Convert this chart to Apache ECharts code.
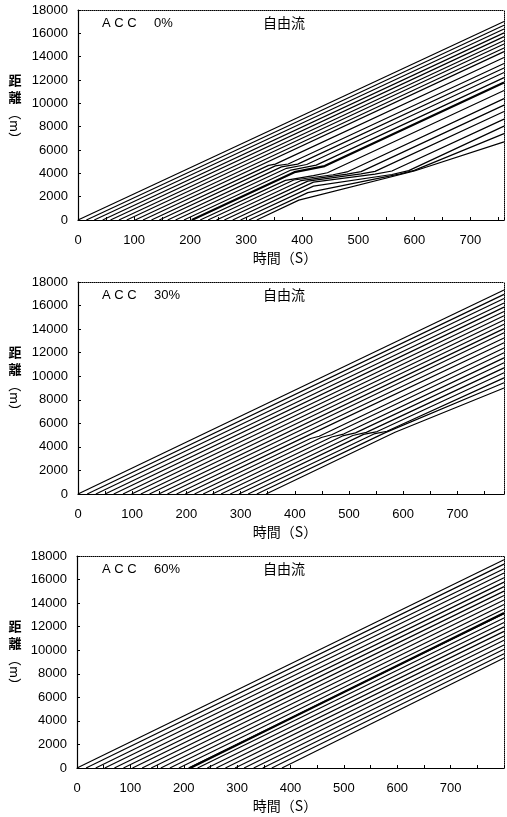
<!DOCTYPE html>
<html>
<head>
<meta charset="utf-8">
<title>ACC trajectories</title>
<script src="https://cdn.jsdelivr.net/npm/echarts@6/dist/echarts.min.js"></script>
<style>
html, body { margin: 0; padding: 0; background: #fff; }
#chart { width: 507px; height: 817px; }
</style>
</head>
<body>
<div id="chart"></div>
<script>
// vehicle trajectories, points are [time (s), distance (m)]
const acc0Trajectories = [
  [[0, 0], [760, 17020]],
  [[15, 0], [760, 16690]],
  [[29, 0], [760, 16370]],
  [[44, 0], [760, 16040]],
  [[58, 0], [760, 15720]],
  [[73, 0], [760, 15390]],
  [[87, 0], [760, 15080]],
  [[102, 0], [760, 14740]],
  [[116, 0], [760, 14430]],
  [[131, 0], [340, 4680], [352, 4790], [760, 13930]],
  [[145, 0], [352, 4640], [375, 4800], [760, 13420]],
  [[160, 0], [363, 4550], [392, 4790], [760, 13030]],
  [[174, 0], [372, 4430], [408, 4760], [760, 12640]],
  [[189, 0], [380, 4280], [425, 4700], [760, 12200]],
  [[203, 0], [386, 4100], [440, 4620], [760, 11790]],
  [[218, 0], [370, 3400], [420, 3800], [445, 4050], [760, 11100]],
  [[232, 0], [385, 3430], [455, 3880], [480, 4120], [760, 10400]],
  [[247, 0], [398, 3380], [480, 3930], [505, 4150], [760, 9850]],
  [[261, 0], [410, 3330], [505, 3950], [530, 4170], [760, 9300]],
  [[276, 0], [420, 3250], [530, 3930], [560, 4200], [760, 8650]],
  [[290, 0], [420, 2900], [560, 3900], [590, 4230], [760, 8050]],
  [[305, 0], [410, 2350], [575, 3950], [600, 4250], [760, 7400]],
  [[319, 0], [394, 1700], [600, 4200], [760, 6700]]
];
const acc0MarkedIndex = 14;

const acc30Trajectories = [
  [[0, 0], [786, 17320]],
  [[17, 0], [786, 16950]],
  [[33, 0], [786, 16600]],
  [[50, 0], [786, 16220]],
  [[66, 0], [786, 15870]],
  [[83, 0], [786, 15490]],
  [[99, 0], [786, 15140]],
  [[116, 0], [786, 14770]],
  [[132, 0], [786, 14410]],
  [[149, 0], [786, 14040]],
  [[165, 0], [786, 13690]],
  [[182, 0], [390, 4580], [786, 13250]],
  [[198, 0], [410, 4660], [786, 12840]],
  [[215, 0], [429, 4710], [445, 4900], [786, 12400]],
  [[231, 0], [449, 4800], [468, 5030], [786, 11990]],
  [[248, 0], [468, 4840], [490, 5090], [786, 11560]],
  [[264, 0], [488, 4930], [512, 5190], [786, 11150]],
  [[281, 0], [507, 4970], [532, 5230], [786, 10710]],
  [[297, 0], [527, 5060], [552, 5300], [786, 10300]],
  [[314, 0], [546, 5100], [570, 5330], [786, 9860]],
  [[330, 0], [566, 5190], [786, 9450]],
  [[347, 0], [585, 5240], [786, 9000]]
];

const acc60Trajectories = [
  [[0, 0], [800, 17680]],
  [[17, 0], [800, 17310]],
  [[35, 0], [800, 16920]],
  [[52, 0], [800, 16550]],
  [[70, 0], [800, 16150]],
  [[87, 0], [800, 15780]],
  [[104, 0], [800, 15400]],
  [[122, 0], [800, 15020]],
  [[139, 0], [800, 14640]],
  [[157, 0], [800, 14260]],
  [[174, 0], [800, 13880]],
  [[191, 0], [800, 13500]],
  [[209, 0], [800, 13110]],
  [[226, 0], [800, 12740]],
  [[244, 0], [800, 12350]],
  [[261, 0], [800, 11980]],
  [[278, 0], [800, 11600]],
  [[296, 0], [800, 11210]],
  [[313, 0], [800, 10840]],
  [[331, 0], [800, 10450]],
  [[348, 0], [800, 10080]],
  [[365, 0], [800, 9700]],
  [[384, 0], [800, 9340]]
];
const acc60Marked = [[212, 0], [800, 13160]];

const panelRates = ['0%', '30%', '60%'];
const timeMax = [760, 786, 800];
const distanceMax = 18000;
const distanceStep = 2000;
const timeStep = 100;
const accLabel = 'A C C';
const flowLabel = '自由流';
const xName = '時間（S）';
const yNameChars = ['距', '離'];
const yNameUnit = '（m）';

const layout = [
  { left: 78, top: 10, height: 210 },
  { left: 78, top: 282, height: 212 },
  { left: 77, top: 556, height: 212 }
];

const latin = '"Liberation Sans", Arial, sans-serif';
const cjk = '"Noto Sans CJK JP", sans-serif';

const chart = echarts.init(document.getElementById('chart'));

const grids = [];
const xAxes = [];
const yAxes = [];
const series = [];
const graphics = [];

function lineSeries(points, panel, width) {
  return {
    type: 'line',
    xAxisIndex: panel * 2,
    yAxisIndex: panel * 2,
    data: points,
    symbol: 'none',
    silent: true,
    animation: false,
    lineStyle: { color: '#000', width: width }
  };
}

const allTrajectories = [acc0Trajectories, acc30Trajectories, acc60Trajectories];

layout.forEach((box, p) => {
  const max = timeMax[p];
  grids.push({ left: box.left, top: box.top, width: 506 - box.left, height: box.height, containLabel: false });

  xAxes.push({
    type: 'value', gridIndex: p, min: 0, max: max, interval: timeStep, position: 'bottom',
    axisLine: { onZero: false, lineStyle: { color: '#000', width: 1.2 } },
    axisTick: { inside: true, length: 3, lineStyle: { color: '#000' } },
    minorTick: { show: true, splitNumber: 2, length: 3, lineStyle: { color: '#000' } },
    axisLabel: {
      color: '#000', fontSize: 13, fontFamily: latin, margin: 14,
      formatter: v => (v % timeStep === 0 && v < max ? String(v) : '')
    },
    splitLine: { show: false }
  });
  xAxes.push({
    type: 'value', gridIndex: p, min: 0, max: max, position: 'top',
    axisLine: { onZero: false, lineStyle: { color: '#000', width: 1, type: 'dotted' } },
    axisTick: { show: false }, axisLabel: { show: false }, splitLine: { show: false }
  });

  yAxes.push({
    type: 'value', gridIndex: p, min: 0, max: distanceMax, interval: distanceStep, position: 'left',
    axisLine: { onZero: false, lineStyle: { color: '#000', width: 1.2 } },
    axisTick: { inside: true, length: 3, lineStyle: { color: '#000' } },
    axisLabel: { color: '#000', fontSize: 13, fontFamily: latin, margin: 10, formatter: v => String(v) },
    splitLine: { show: false }
  });
  yAxes.push({
    type: 'value', gridIndex: p, min: 0, max: distanceMax, position: 'right',
    axisLine: { onZero: false, lineStyle: { color: '#000', width: 1, type: 'dotted' } },
    axisTick: { show: false }, axisLabel: { show: false }, splitLine: { show: false }
  });

  allTrajectories[p].forEach((pts, i) => {
    const marked = p === 0 && i === acc0MarkedIndex;
    series.push(lineSeries(pts, p, marked ? 2.2 : 1.2));
  });
  if (p === 2) {
    series.push(lineSeries(acc60Marked, p, 2.2));
  }

  const top = box.top;
  const bottom = box.top + box.height;
  graphics.push(
    { type: 'text', x: 102, y: top + 13, style: { text: accLabel, font: '13px ' + latin, fill: '#000', verticalAlign: 'middle' } },
    { type: 'text', x: 154, y: top + 13, style: { text: panelRates[p], font: '13px ' + latin, fill: '#000', verticalAlign: 'middle' } },
    { type: 'text', x: 263, y: top + 13, style: { text: flowLabel, font: '14px ' + cjk, fill: '#000', verticalAlign: 'middle' } },
    { type: 'text', x: 285, y: bottom + 38, style: { text: xName, font: '14px ' + cjk, fill: '#000', align: 'center', verticalAlign: 'middle' } },
    { type: 'text', x: 15, y: top + 70, style: { text: yNameChars[0], font: 'bold 13px ' + cjk, fill: '#000', align: 'center', verticalAlign: 'middle' } },
    { type: 'text', x: 15, y: top + 87, style: { text: yNameChars[1], font: 'bold 13px ' + cjk, fill: '#000', align: 'center', verticalAlign: 'middle' } },
    { type: 'text', x: 15, y: top + 116, rotation: -Math.PI / 2, style: { text: yNameUnit, font: '13px ' + cjk, fill: '#000', align: 'center', verticalAlign: 'middle' } }
  );
});

chart.setOption({
  backgroundColor: '#fff',
  animation: false,
  grid: grids,
  xAxis: xAxes,
  yAxis: yAxes,
  series: series,
  graphic: graphics
});
</script>
</body>
</html>
